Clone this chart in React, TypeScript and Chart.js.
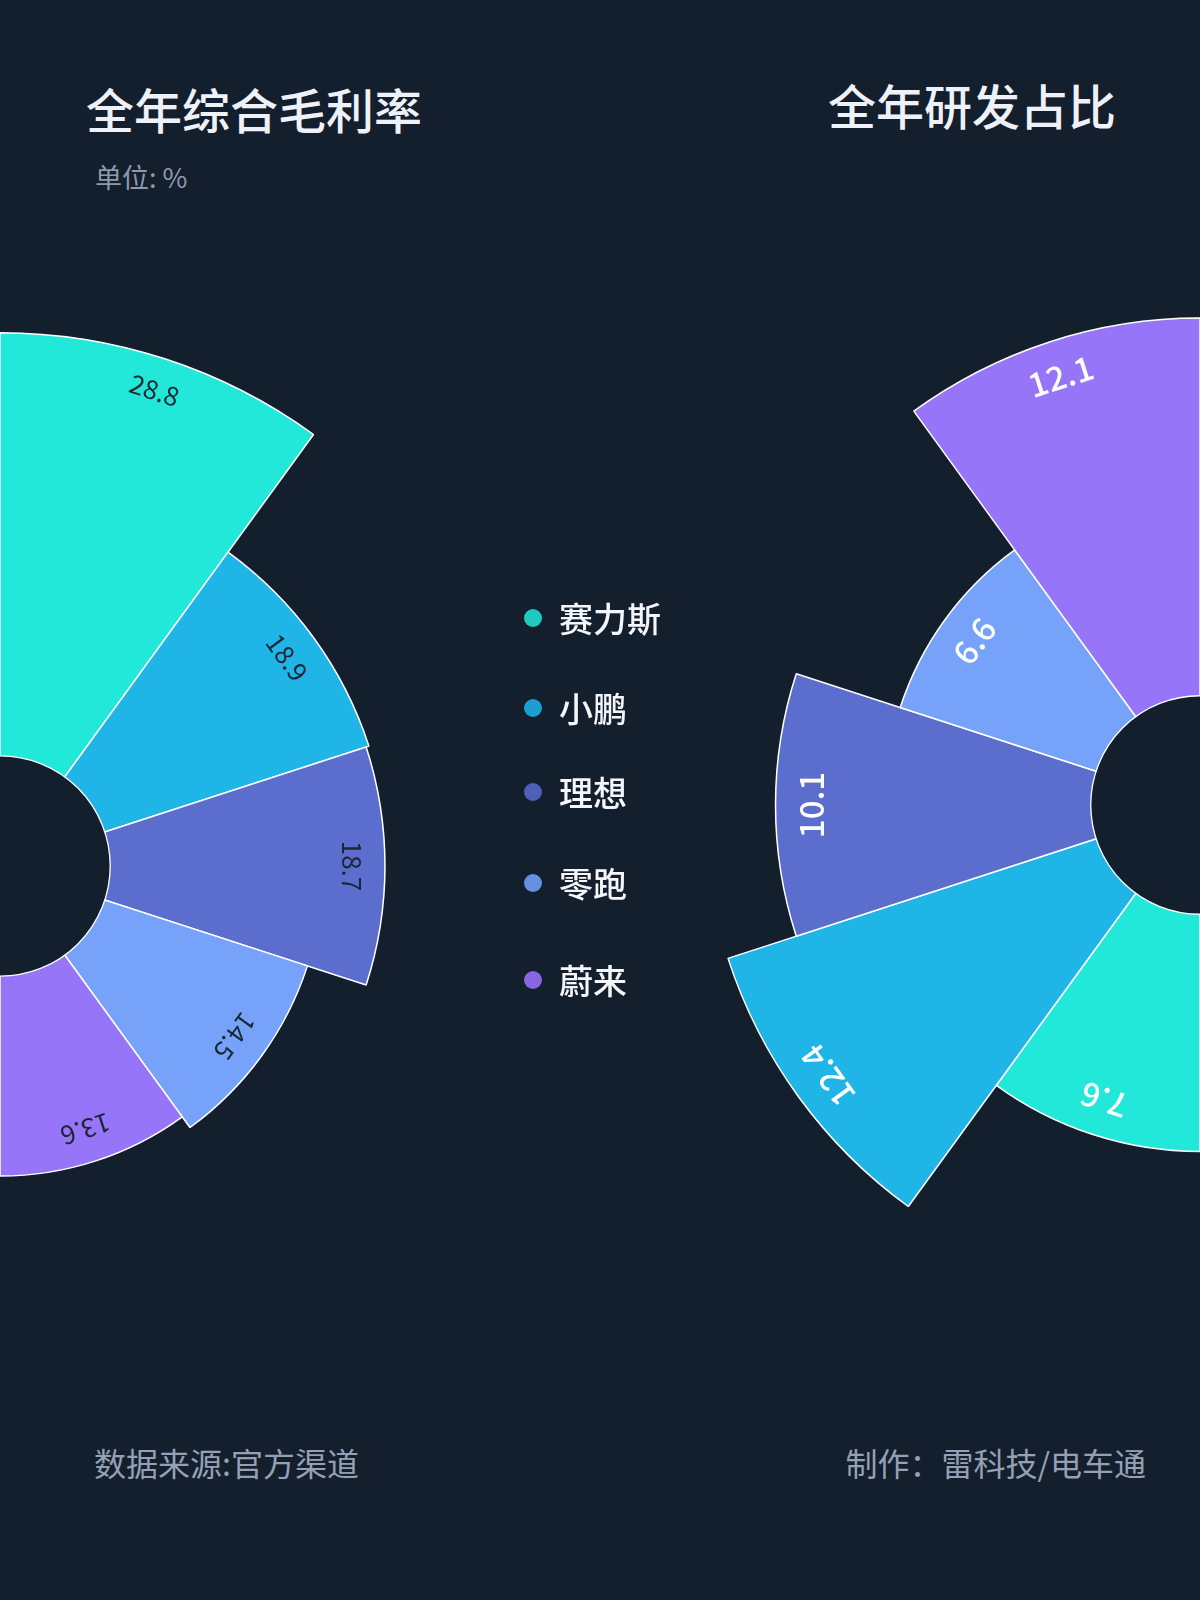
import { useEffect, useRef } from 'react';
import Chart from 'chart.js/auto';

const BG = '#141f2e';
const FONT = '"Noto Sans CJK SC", "Noto Sans", sans-serif';

const brands = ['赛力斯', '小鹏', '理想', '零跑', '蔚来'];
const grossMargin = [28.8, 18.9, 18.7, 14.5, 13.6];
const rdShare = [7.6, 12.4, 10.1, 6.6, 12.1];
const sliceColors = ['#22e8da', '#1fb5e6', '#5b6ecd', '#76a3f9', '#9775f8'];
const dotColors = ['#20c9be', '#1c9fd0', '#4f5fb8', '#6890e0', '#8866e0'];

// legend row centres (layout only)
const legendY = [618, 708, 792, 883, 980];

type RoseProps = {
  values: number[];
  min: number;
  max: number;
  startAngle: number;
  size: number;
  left: number;
  top: number;
  labelColor: string;
  labelSize: number;
  labelWeight: number;
  labelInset: number;
};

function RoseChart({ values, min, max, startAngle, size, left, top, labelColor, labelSize, labelWeight, labelInset }: RoseProps) {
  const canvasRef = useRef<HTMLCanvasElement>(null);
  const chartRef = useRef<Chart | null>(null);

  useEffect(() => {
    if (!canvasRef.current) return;
    if (chartRef.current) chartRef.current.destroy();

    // covers the centre with a hole and writes each value along its arc
    const holeAndLabels = {
      id: 'holeAndLabels',
      afterDatasetsDraw(chart: any) {
        const { ctx } = chart;
        const scale = chart.scales.r;
        const cx = scale.xCenter;
        const cy = scale.yCenter;
        const hole = scale.getDistanceFromCenterForValue(0);

        ctx.save();
        ctx.beginPath();
        ctx.arc(cx, cy, hole, 0, Math.PI * 2);
        ctx.fillStyle = BG;
        ctx.fill();
        ctx.lineWidth = 1.3;
        ctx.strokeStyle = '#ffffff';
        ctx.stroke();

        ctx.font = `${labelWeight} ${labelSize}px ${FONT}`;
        ctx.fillStyle = labelColor;
        ctx.textAlign = 'center';
        ctx.textBaseline = 'middle';
        const meta = chart.getDatasetMeta(0);
        meta.data.forEach((arc: any, i: number) => {
          const { startAngle: a0, endAngle: a1, outerRadius } = arc.getProps(['startAngle', 'endAngle', 'outerRadius'], true);
          const mid = (a0 + a1) / 2;
          const r = outerRadius - labelInset;
          ctx.save();
          ctx.translate(cx + r * Math.cos(mid), cy + r * Math.sin(mid));
          ctx.rotate(mid + Math.PI / 2);
          ctx.fillText(String(values[i]), 0, 0);
          ctx.restore();
        });
        ctx.restore();
      }
    };

    chartRef.current = new Chart(canvasRef.current, {
      type: 'polarArea',
      data: {
        labels: brands,
        datasets: [{
          data: values,
          backgroundColor: sliceColors,
          borderColor: '#ffffff',
          borderWidth: 1.5,
          angle: 36,
        } as any]
      },
      options: {
        responsive: true,
        maintainAspectRatio: false,
        animation: false,
        events: [],
        plugins: {
          legend: { display: false },
          tooltip: { enabled: false }
        },
        scales: {
          r: {
            min,
            max,
            startAngle,
            grid: { display: false },
            angleLines: { display: false },
            ticks: { display: false },
            pointLabels: { display: false }
          }
        }
      },
      plugins: [holeAndLabels]
    });

    return () => {
      if (chartRef.current) {
        chartRef.current.destroy();
        chartRef.current = null;
      }
    };
  }, []);

  return (
    <div style={{ position: 'absolute', left, top, width: size, height: size }}>
      <canvas ref={canvasRef} />
    </div>
  );
}

export default function App() {
  useEffect(() => {
    document.body.style.margin = '0';
    document.body.style.background = BG;
  }, []);

  const text = (extra: any) => ({ position: 'absolute' as const, fontFamily: FONT, lineHeight: 1, whiteSpace: 'nowrap' as const, ...extra });

  return (
    <div style={{ position: 'absolute', left: 0, top: 0, width: 1200, height: 1600, overflow: 'hidden', background: BG }}>
      <RoseChart values={grossMargin} min={-7.5} max={30} startAngle={0}
        size={1102} left={-551} top={315}
        labelColor="#1b2634" labelSize={26} labelWeight={400} labelInset={33} />
      <RoseChart values={rdShare} min={-3.5} max={13} startAngle={180}
        size={1030} left={685} top={290}
        labelColor="#ffffff" labelSize={33} labelWeight={500} labelInset={36} />

      <div style={text({ left: 86, top: 84, fontSize: 48, fontWeight: 500, color: '#eef2f8' })}>全年综合毛利率</div>
      <div style={text({ left: 95, top: 163, fontSize: 27, color: '#8e99ab' })}>单位: %</div>
      <div style={text({ right: 84, top: 80, fontSize: 48, fontWeight: 500, color: '#eef2f8' })}>全年研发占比</div>

      {brands.map((b, i) => (
        <div key={b} style={{ position: 'absolute', left: 524, top: legendY[i] - 20, height: 40, display: 'flex', alignItems: 'center' }}>
          <span style={{ width: 18, height: 18, borderRadius: 9, background: dotColors[i], display: 'inline-block' }} />
          <span style={{ marginLeft: 17, fontFamily: FONT, fontSize: 34, fontWeight: 500, lineHeight: 1, color: '#f4f6fa' }}>{b}</span>
        </div>
      ))}

      <div style={text({ left: 94, top: 1446, fontSize: 32, color: '#95a0b5' })}>数据来源:官方渠道</div>
      <div style={text({ right: 54, top: 1446, fontSize: 32, color: '#95a0b5' })}>制作：雷科技/电车通</div>
    </div>
  );
}
